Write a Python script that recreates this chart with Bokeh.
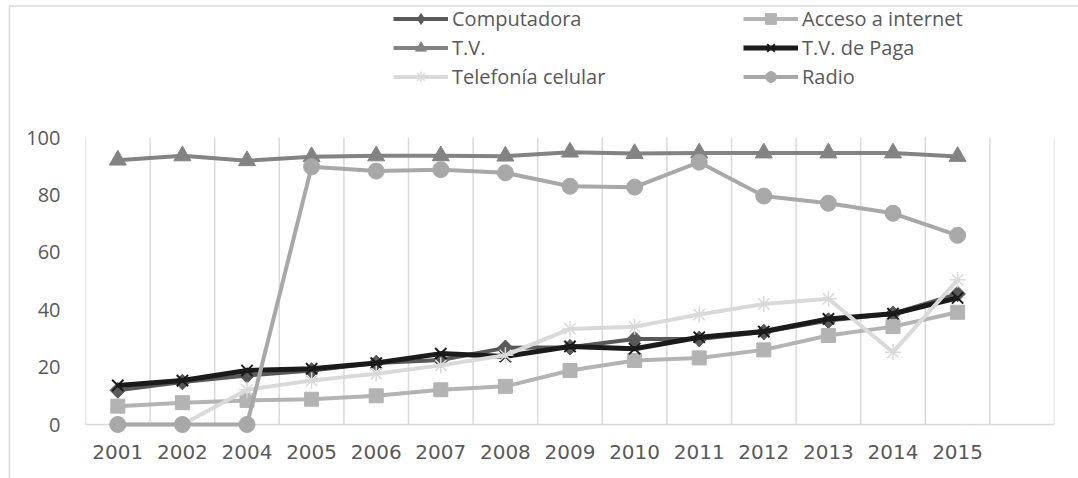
import math
from bokeh.plotting import figure
from bokeh.models import FixedTicker, Range1d, Legend, LegendItem
from bokeh.embed import file_html
from bokeh.resources import INLINE

# ---- data ----
years = ["2001", "2002", "2004", "2005", "2006", "2007", "2008",
         "2009", "2010", "2011", "2012", "2013", "2014", "2015"]
computadora = [11.9, 14.8, 17.1, 18.8, 21.4, 22.5, 26.7, 26.9, 29.8, 29.8, 32.2, 36.2, 38.6, 45.5]
acceso_internet = [6.4, 7.6, 8.4, 8.8, 10.0, 12.1, 13.3, 18.8, 22.3, 23.2, 26.0, 31.0, 34.1, 39.1]
tv = [92.1, 93.6, 91.9, 93.3, 93.6, 93.6, 93.5, 94.9, 94.4, 94.6, 94.6, 94.6, 94.6, 93.4]
tv_paga = [13.6, 15.3, 18.8, 19.4, 21.4, 24.7, 23.7, 27.2, 26.4, 30.4, 32.4, 36.8, 38.6, 44.1]
telefonia_celular = [0, 0, 12.1, 15.3, 17.7, 20.6, 24.1, 33.3, 34.1, 38.3, 42.0, 43.8, 25.2, 50.4]
radio = [0, 0, 0, 89.8, 88.3, 88.8, 87.7, 83.0, 82.7, 91.4, 79.6, 77.1, 73.6, 65.9]
n_slots = 15  # one empty category slot after 2015
y_ticks = [0, 20, 40, 60, 80, 100]
y_max = 100

# ---- layout (pixels) ----
W, H = 1078, 478
LEFT, RIGHT, BOTTOM = 85, 24, 54
FRAME_W = W - LEFT - RIGHT          # 969
FRAME_H = H - BOTTOM                # 424 (frame reaches the top so the legend fits)
PLOT_H = 287                        # pixels from 0 to 100
px_per_unit = PLOT_H / y_max
px_per_slot = FRAME_W / n_slots
y_top = FRAME_H / px_per_unit

xs = [i + 0.5 for i in range(len(years))]

p = figure(width=W, height=H, output_backend="svg", toolbar_location=None,
           x_range=Range1d(0, n_slots), y_range=Range1d(0, y_top),
           min_border_left=LEFT, min_border_right=RIGHT,
           min_border_top=0, min_border_bottom=BOTTOM)
p.outline_line_color = None
p.background_fill_color = "white"
p.border_fill_color = "white"

# axes
p.xaxis.ticker = FixedTicker(ticks=xs)
p.xaxis.major_label_overrides = {x: y for x, y in zip(xs, years)}
p.xaxis.axis_line_color = "#d9d9d9"
p.xaxis.axis_line_width = 1.5
p.xaxis.major_tick_line_color = None
p.xaxis.minor_tick_line_color = None
p.xaxis.major_label_text_font = "DejaVu Sans"
p.xaxis.major_label_text_font_size = "20px"
p.xaxis.major_label_text_color = "#595959"
p.xaxis.major_label_standoff = 14

p.yaxis.ticker = FixedTicker(ticks=y_ticks)
p.yaxis.axis_line_color = None
p.yaxis.major_tick_line_color = None
p.yaxis.minor_tick_line_color = None
p.yaxis.major_label_text_font = "Open Sans"
p.yaxis.major_label_text_font_size = "20px"
p.yaxis.major_label_text_color = "#595959"
p.yaxis.major_label_standoff = 19

p.xgrid.visible = False
p.ygrid.visible = False
# vertical category-boundary grid lines, from 0 to 100 only
bounds = list(range(n_slots + 1))
p.segment(x0=bounds, y0=[0] * len(bounds), x1=bounds, y1=[y_max] * len(bounds),
          line_color="#d9d9d9", line_width=1.5, level="underlay")

# outer chart border (top and left edges)
bx = (9 - LEFT) / px_per_slot
by = (FRAME_H - 5.5) / px_per_unit
p.line([bx, bx, n_slots + RIGHT / px_per_slot], [-BOTTOM / px_per_unit, by, by],
       line_color="#d9d9d9", line_width=1.5, level="overlay")

# name, values, colour, marker, size, angle, line width, marker line width
series = [
    ("Computadora", computadora, "#595959", "square", 11, math.pi / 4, 4, 1),
    ("Acceso a internet", acceso_internet, "#b3b3b3", "square", 14, 0, 4, 1),
    ("T.V.", tv, "#838383", "triangle", 17, 0, 4, 1),
    ("T.V. de Paga", tv_paga, "#1a1a1a", "x", 16, 0, 5, 2),
    ("Telefonía celular", telefonia_celular, "#d9d9d9", "asterisk", 16, 0, 4, 1.5),
    ("Radio", radio, "#a8a8a8", "circle", 16, 0, 4, 1),
]

items = {}
for name, vals, color, marker, size, ang, lw, mlw in series:
    ln = p.line(xs, vals, line_color=color, line_width=lw, level="overlay")
    legend_marker = None
    if ang:
        # diamond glyph (used for the legend), covered by the rotated square
        legend_marker = p.scatter(xs, vals, marker="diamond", size=15, fill_color=color,
                                  line_color=color, level="overlay")
    sc = p.scatter(xs, vals, marker=marker, size=size, angle=ang, fill_color=color,
                   line_color=color, line_width=mlw, level="overlay")
    items[name] = LegendItem(label=name, renderers=[ln, legend_marker or sc])

def make_legend(names, loc):
    lg = Legend(items=[items[n] for n in names], location=loc,
                orientation="vertical", glyph_width=55, glyph_height=27,
                label_height=27, spacing=2, padding=0, margin=0,
                label_standoff=4, border_line_color=None,
                background_fill_alpha=0,
                label_text_font="Open Sans", label_text_font_size="20px",
                label_text_color="#595959")
    p.add_layout(lg, "center")

make_legend(["Computadora", "T.V.", "Telefonía celular"], (308, 334))
make_legend(["Acceso a internet", "T.V. de Paga", "Radio"], (658, 334))

open("out.html", "w").write(file_html(p, INLINE))
